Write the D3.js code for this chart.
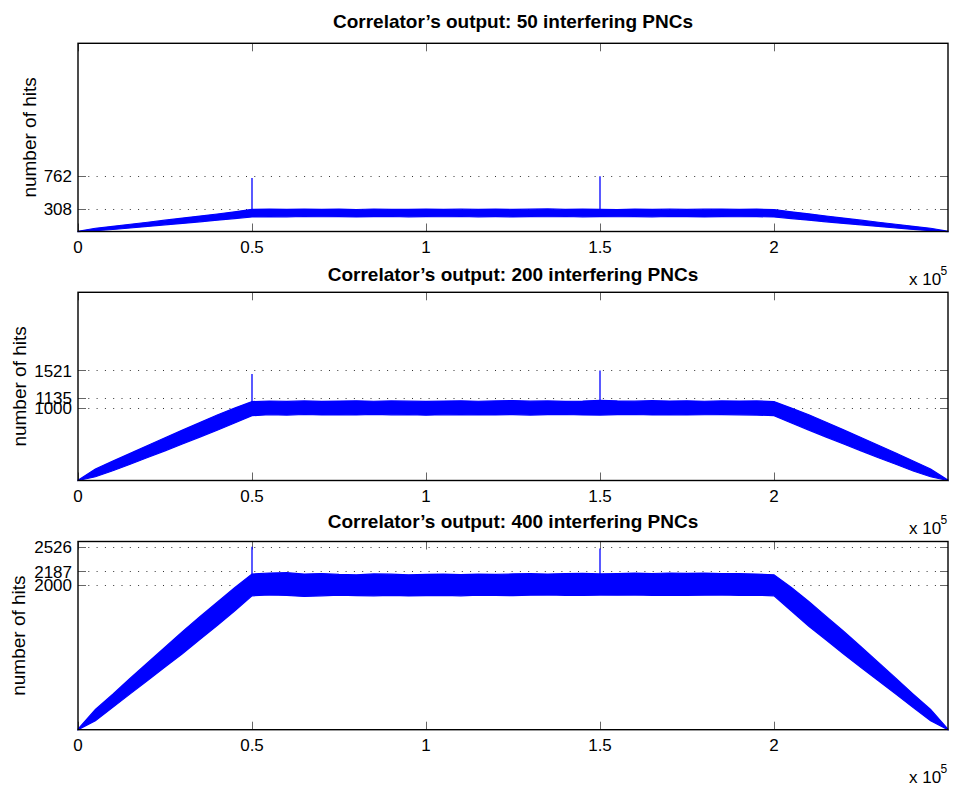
<!DOCTYPE html>
<html>
<head>
<meta charset="utf-8">
<script src="https://cdn.jsdelivr.net/npm/d3@7"></script>
<style>
  body { margin: 0; background: #fff; }
  svg { display: block; }
  text { font-family: "Liberation Sans", Arial, Helvetica, sans-serif; fill: #000; }
</style>
</head>
<body>
<svg id="chart" width="953" height="788"></svg>
<script>
// Sample positions (correlator lag index) where the output envelope is given, every 5000 lags
const sampleX = [
  0, 5000, 10000, 15000, 20000, 25000, 30000, 35000, 40000, 45000,
  50000, 55000, 60000, 65000, 70000, 75000, 80000, 85000, 90000, 95000,
  100000, 105000, 110000, 115000, 120000, 125000, 130000, 135000, 140000, 145000,
  150000, 155000, 160000, 165000, 170000, 175000, 180000, 185000, 190000, 195000,
  200000, 205000, 210000, 215000, 220000, 225000, 230000, 235000, 240000, 245000, 250000
];

// Upper / lower envelope of the number of hits, per interference level
const upper50 = [
  3, 45, 72, 100, 128, 157, 185, 213, 242, 272,
  306, 309, 305, 310, 306, 308, 304, 311, 307, 305,
  309, 306, 308, 305, 310, 306, 308, 312, 305, 309,
  307, 304, 310, 306, 308, 305, 309, 311, 306, 308,
  304, 272, 244, 214, 186, 157, 128, 100, 72, 45, 3
];
const lower50 = [
  0, 12, 28, 48, 70, 92, 112, 134, 156, 178,
  200, 206, 203, 207, 204, 206, 202, 205, 207, 203,
  206, 204, 207, 203, 205, 202, 206, 204, 207, 203,
  205, 204, 206, 203, 207, 205, 202, 206, 204, 205,
  200, 178, 156, 134, 112, 92, 70, 48, 28, 12, 0
];
const upper200 = [
  5, 158, 268, 375, 484, 590, 696, 800, 905, 1000,
  1090, 1098, 1092, 1100, 1094, 1097, 1102, 1095, 1100, 1096,
  1093, 1097, 1102, 1095, 1099, 1104, 1096, 1100, 1094, 1098,
  1108, 1099, 1096, 1103, 1098, 1101, 1095, 1099, 1097, 1100,
  1090, 1000, 908, 805, 700, 595, 488, 380, 270, 160, 5
];
const lower200 = [
  0, 52, 135, 225, 318, 410, 505, 600, 695, 795,
  895, 908, 904, 912, 906, 910, 905, 913, 907, 911,
  902, 908, 905, 910, 906, 911, 904, 909, 912, 906,
  904, 909, 912, 906, 910, 905, 908, 911, 907, 904,
  895, 795, 696, 600, 505, 410, 315, 225, 132, 52, 0
];
const upper400 = [
  8, 280, 490, 710, 925, 1140, 1355, 1560, 1760, 1960,
  2150, 2165, 2170, 2150, 2158, 2145, 2140, 2152, 2148, 2140,
  2145, 2150, 2142, 2148, 2145, 2152, 2155, 2150, 2158, 2160,
  2152, 2155, 2162, 2158, 2165, 2160, 2162, 2158, 2155, 2150,
  2140, 1965, 1770, 1565, 1360, 1145, 930, 712, 492, 280, 8
];
const lower400 = [
  0, 125, 310, 495, 680, 865, 1050, 1245, 1440, 1640,
  1850, 1862, 1855, 1840, 1850, 1858, 1852, 1850, 1855, 1848,
  1852, 1856, 1850, 1860, 1855, 1852, 1858, 1862, 1856, 1855,
  1860, 1858, 1862, 1855, 1860, 1856, 1858, 1862, 1855, 1860,
  1850, 1640, 1430, 1240, 1045, 860, 675, 492, 308, 125, 0
];

// Correlation peaks (the two synchronised PNC positions)
const peakX    = [50000, 150000];
const peaks50  = [740, 762];
const peaks200 = [1471, 1521];
const peaks400 = [2526, 2505];

// Tick values and labels
const yTicks50  = [308, 762];
const yTicks200 = [1000, 1135, 1521];
const yTicks400 = [2000, 2187, 2526];
const xTickVals   = [0, 50000, 100000, 150000, 200000];
const xTickLabels = ["0", "0.5", "1", "1.5", "2"];

const titles = [
  "Correlator\u2019s output: 50 interfering PNCs",
  "Correlator\u2019s output: 200 interfering PNCs",
  "Correlator\u2019s output: 400 interfering PNCs"
];

const panels = [
  { title: titles[0], upper: upper50,  lower: lower50,  peaks: peaks50,  yTicks: yTicks50,  top: 43.3,  titleY: 28,  labelX: 35.5 },
  { title: titles[1], upper: upper200, lower: lower200, peaks: peaks200, yTicks: yTicks200, top: 292.3, titleY: 281, labelX: 26 },
  { title: titles[2], upper: upper400, lower: lower400, peaks: peaks400, yTicks: yTicks400, top: 541.5, titleY: 528, labelX: 25 }
];

const left = 78, right = 948, plotH = 188.2;
const blue = "#0000ff";
const svg = d3.select("#chart");

const x = d3.scaleLinear().domain([0, 250000]).range([left, right]);

panels.forEach(p => {
  const top = p.top, bottom = top + plotH;
  const y = d3.scaleLinear().domain([0, 2600]).range([bottom, top]);
  const g = svg.append("g");

  // dotted horizontal grid at the labelled levels
  g.selectAll("line.grid").data(p.yTicks).enter().append("line")
    .attr("x1", left).attr("x2", right)
    .attr("y1", d => Math.round(y(d)) + 0.5).attr("y2", d => Math.round(y(d)) + 0.5)
    .attr("stroke", "#333").attr("stroke-width", 1)
    .attr("stroke-dasharray", "1,7.3").attr("stroke-dashoffset", -2);

  // tick marks on all four sides, pointing inward
  const tickLen = 8;
  const tk = g.append("g").attr("stroke", "#666").attr("stroke-width", 1);
  xTickVals.forEach(v => {
    const px = Math.round(x(v)) + 0.5;
    tk.append("line").attr("x1", px).attr("x2", px).attr("y1", bottom).attr("y2", bottom - tickLen);
    tk.append("line").attr("x1", px).attr("x2", px).attr("y1", top).attr("y2", top + tickLen);
  });
  p.yTicks.forEach(v => {
    const py = Math.round(y(v)) + 0.5;
    tk.append("line").attr("x1", left).attr("x2", left + tickLen).attr("y1", py).attr("y2", py);
    tk.append("line").attr("x1", right).attr("x2", right - tickLen).attr("y1", py).attr("y2", py);
  });

  // noise band of the correlator output
  const band = sampleX.map((sx, i) => ({ x: sx, hi: p.upper[i], lo: p.lower[i] }));
  const area = d3.area().x(d => x(d.x)).y0(d => y(d.lo)).y1(d => y(d.hi));
  g.append("path").datum(band)
    .attr("d", area)
    .attr("fill", blue).attr("stroke", blue).attr("stroke-width", 1.2)
    .attr("stroke-linejoin", "miter");

  // correlation peaks
  peakX.forEach((px, i) => {
    const idx = sampleX.indexOf(px);
    g.append("line")
      .attr("x1", x(px)).attr("x2", x(px))
      .attr("y1", y(p.lower[idx])).attr("y2", y(p.peaks[i]))
      .attr("stroke", blue).attr("stroke-width", 1.3);
  });

  // axes box
  g.append("rect")
    .attr("x", left).attr("y", top).attr("width", right - left).attr("height", plotH)
    .attr("fill", "none").attr("stroke", "#000").attr("stroke-width", 1.4);

  // x tick labels
  g.selectAll("text.xt").data(xTickVals).enter().append("text")
    .attr("x", d => x(d)).attr("y", bottom + 21.5)
    .attr("text-anchor", "middle").attr("font-size", "17px")
    .text((d, i) => xTickLabels[i]);

  // exponent label
  g.append("text").attr("x", 909).attr("y", bottom + 53).attr("font-size", "17px").text("x 10");
  g.append("text").attr("x", 940.5).attr("y", bottom + 43.5).attr("font-size", "12px").text("5");

  // y tick labels
  g.selectAll("text.yt").data(p.yTicks).enter().append("text")
    .attr("x", 72).attr("y", d => y(d)).attr("dy", "0.36em")
    .attr("text-anchor", "end").attr("font-size", "17px")
    .text(d => d);

  // y axis label
  g.append("text")
    .attr("transform", `translate(${p.labelX},${(top + bottom) / 2}) rotate(-90)`)
    .attr("text-anchor", "middle").attr("font-size", "19px")
    .text("number of hits");

  // title
  g.append("text")
    .attr("x", (left + right) / 2).attr("y", p.titleY)
    .attr("text-anchor", "middle").attr("font-size", "19px").attr("font-weight", "bold")
    .text(p.title);
});
</script>
</body>
</html>
